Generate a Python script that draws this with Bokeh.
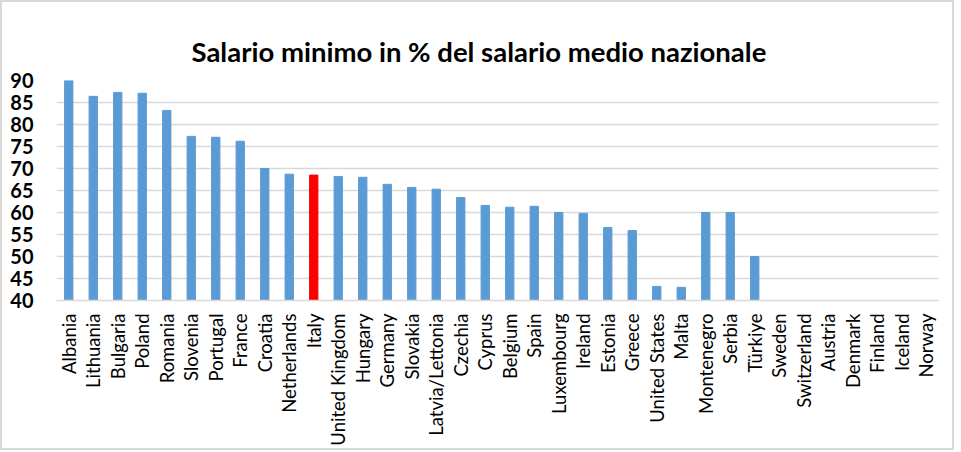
import math
from bokeh.plotting import figure
from bokeh.models import ColumnDataSource, FactorRange, Title
from bokeh.embed import file_html
from bokeh.resources import INLINE

countries = ["Albania", "Lithuania", "Bulgaria", "Poland", "Romania", "Slovenia",
             "Portugal", "France", "Croatia", "Netherlands", "Italy", "United Kingdom",
             "Hungary", "Germany", "Slovakia", "Latvia/Lettonia", "Czechia", "Cyprus",
             "Belgium", "Spain", "Luxembourg", "Ireland", "Estonia", "Greece",
             "United States", "Malta", "Montenegro", "Serbia", "Türkiye", "Sweden",
             "Switzerland", "Austria", "Denmark", "Finland", "Iceland", "Norway"]
values = [90.0, 86.4, 87.3, 87.1, 83.2, 77.3, 77.1, 76.2, 70.0, 68.7, 68.5, 68.2,
          68.0, 66.4, 65.7, 65.3, 63.4, 61.6, 61.2, 61.4, 60.0, 59.8, 56.6, 55.9,
          43.2, 43.0, 60.0, 60.0, 50.0, None, None, None, None, None, None, None]
highlight = "Italy"
y_ticks = [40, 45, 50, 55, 60, 65, 70, 75, 80, 85, 90]
title_text = "Salario minimo in % del salario medio nazionale"

xs, tops, colors = [], [], []
for c, v in zip(countries, values):
    if v is None:
        continue
    xs.append(c)
    tops.append(v)
    colors.append("#ff0000" if c == highlight else "#5b9bd5")
src = ColumnDataSource(dict(x=xs, top=tops, color=colors))

p = figure(x_range=FactorRange(*countries, range_padding=0), y_range=(40, 90),
           frame_width=882, frame_height=220, output_backend="svg", toolbar_location=None,
           min_border_left=54, min_border_right=14, min_border_top=78,
           min_border_bottom=0)
p.styles = {"border": "2px solid #d9d9d9"}
p.vbar(x="x", top="top", bottom=40, width=0.34, color="color", source=src)

# spacer between the title and the plot area
p.add_layout(Title(text=" ", text_font_size="6px", standoff=0), "above")

p.title.text = title_text
p.title.align = "left"
p.title.offset = 135
p.title.text_font = "Lato"
p.title.text_font_size = "27.5px"
p.title.text_font_style = "bold"
p.title.text_color = "black"

p.outline_line_color = None
p.xgrid.grid_line_color = None
p.ygrid.grid_line_color = "#d9d9d9"
p.ygrid.grid_line_width = 1.5
p.yaxis.ticker = y_ticks
p.yaxis.axis_line_color = None
p.yaxis.major_tick_line_color = None
p.yaxis.minor_tick_line_color = None
p.yaxis.major_label_standoff = 17
p.yaxis.major_label_text_font = "Lato"
p.yaxis.major_label_text_font_style = "bold"
p.yaxis.major_label_text_font_size = "20px"
p.yaxis.major_label_text_color = "black"

p.xaxis.axis_line_color = "#d9d9d9"
p.xaxis.axis_line_width = 1.5
p.xaxis.major_tick_line_color = None
p.xaxis.minor_tick_line_color = None
p.xaxis.major_label_orientation = math.pi / 2
p.xaxis.major_label_standoff = 7
p.xaxis.major_label_text_font = "Lato"
p.xaxis.major_label_text_font_size = "18.5px"
p.xaxis.major_label_text_color = "black"

open("out.html", "w").write(file_html(p, INLINE))
